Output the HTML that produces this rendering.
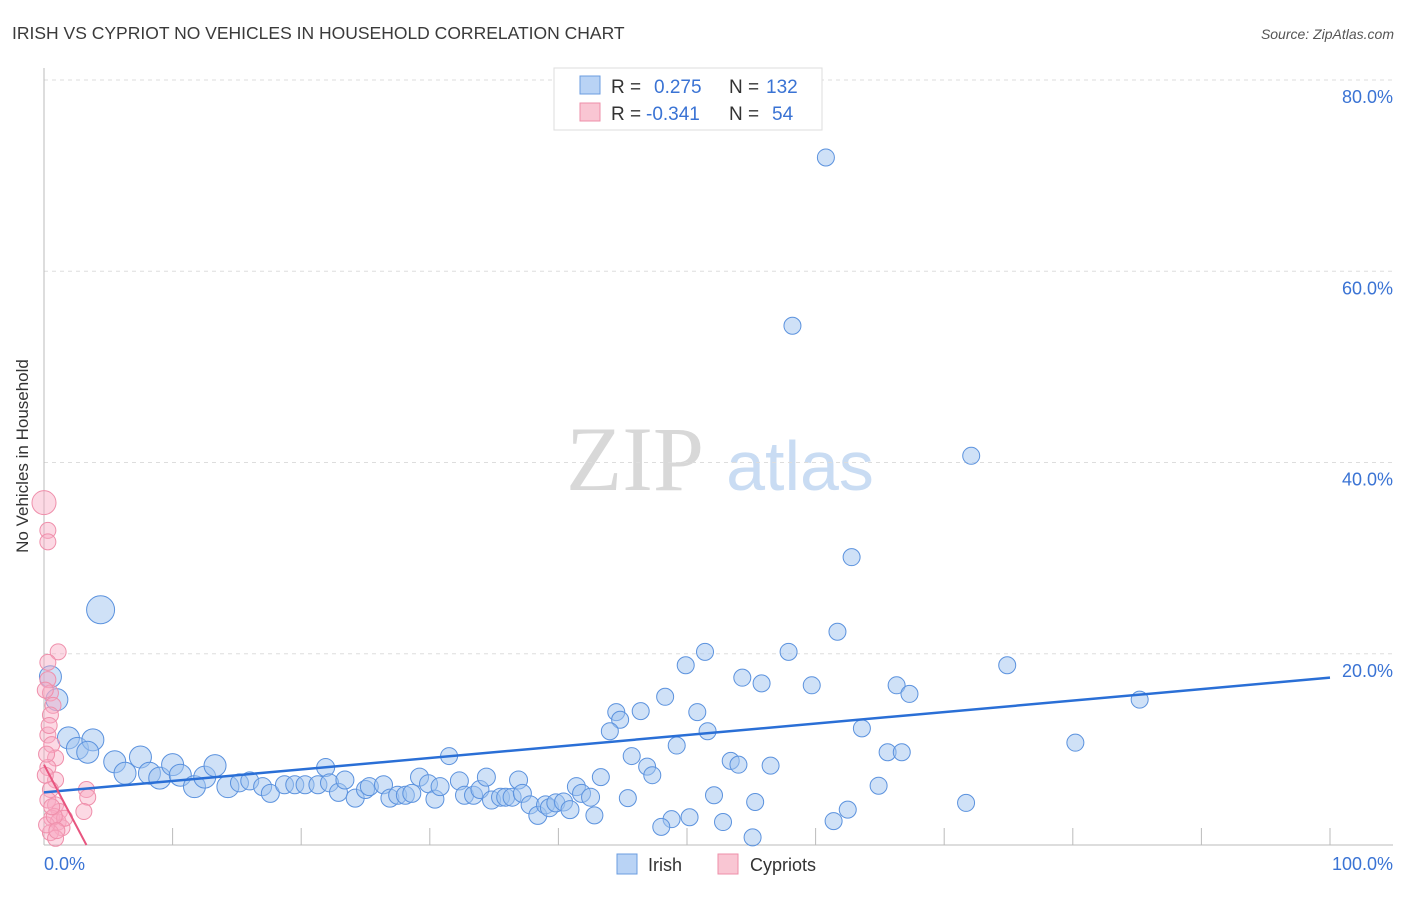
<!DOCTYPE html>
<html><head><meta charset="utf-8"><style>
body{margin:0;background:#fff;font-family:"Liberation Sans",sans-serif}
svg text{font-family:"Liberation Sans",sans-serif}
</style></head><body>
<svg id="c" width="1406" height="892">
<text x="12" y="39" font-size="17.5" fill="#3a3a3a">IRISH VS CYPRIOT NO VEHICLES IN HOUSEHOLD CORRELATION CHART</text>
<text x="1394" y="39" font-size="14" fill="#555" font-style="italic" text-anchor="end">Source: ZipAtlas.com</text>
<g>
<text x="635" y="490" font-size="92" fill="#d8d8d8" text-anchor="middle" font-family="Liberation Serif" style="font-family:'Liberation Serif',serif">ZIP</text>
<text x="800" y="490" font-size="70" fill="#c9dcf3" text-anchor="middle">atlas</text>
</g>
<g id="grid"></g><g id="axes"></g><g id="pts"></g><g id="trend"></g>
<text x="28" y="456" font-size="17" fill="#333" text-anchor="middle" transform="rotate(-90 28 456)">No Vehicles in Household</text>
<g>
<rect x="554" y="68" width="268" height="62" fill="#fff" stroke="#ddd"/>
<rect x="580" y="76" width="20" height="18" fill="#b9d3f5" stroke="#6b9de0"/>
<text x="611" y="93" font-size="19" fill="#333">R =</text><text x="654" y="93" font-size="19" fill="#3a73d4">0.275</text>
<text x="729" y="93" font-size="19" fill="#333">N =</text><text x="766" y="93" font-size="19" fill="#3a73d4">132</text>
<rect x="580" y="103" width="20" height="18" fill="#f9c6d3" stroke="#ee8fa8"/>
<text x="611" y="120" font-size="19" fill="#333">R =</text><text x="646" y="120" font-size="19" fill="#3a73d4">-0.341</text>
<text x="729" y="120" font-size="19" fill="#333">N =</text><text x="772" y="120" font-size="19" fill="#3a73d4">54</text>
</g>
<g>
<rect x="617" y="854" width="20" height="20" fill="#b9d3f5" stroke="#6b9de0"/>
<text x="648" y="871" font-size="18" fill="#333">Irish</text>
<rect x="718" y="854" width="20" height="20" fill="#f9c6d3" stroke="#ee8fa8"/>
<text x="750" y="871" font-size="18" fill="#333">Cypriots</text>
</g>
</svg>
<script>
const yTicks=[20,40,60,80];
const yTickLabels=["20.0%","40.0%","60.0%","80.0%"];
const xTickLabels=["0.0%","100.0%"];
const irishX=[0.5,1.0,1.9,2.6,3.8,3.4,5.5,6.3,7.5,8.2,9.0,10.0,10.6,11.7,12.5,13.3,14.3,15.2,16.0,17.0,17.6,18.7,19.5,20.3,21.3,21.9,22.2,22.9,23.4,24.2,25.0,25.3,26.4,26.9,27.5,28.1,28.6,29.2,29.9,30.4,30.8,32.3,32.7,33.4,33.9,34.4,34.8,35.5,35.9,36.4,36.9,37.2,37.8,38.4,39.0,39.3,39.8,40.4,40.9,41.4,41.8,42.5,4.4,
60.8,58.2,72.1,62.8,61.7,51.4,57.9,49.9,74.9,54.3,55.8,59.7,66.3,67.3,48.3,85.2,44.5,46.4,50.8,44.8,44.0,51.6,63.6,49.2,80.2,65.6,66.7,31.5,45.7,53.4,54.0,56.5,46.9,47.3,43.3,64.9,52.1,45.4,55.3,71.7,62.5,50.2,48.8,61.4,52.8,48.0,55.1,42.8];
const irishY=[17.6,15.2,11.2,10.1,11.0,9.7,8.7,7.5,9.2,7.5,7.0,8.4,7.3,6.1,7.1,8.3,6.1,6.5,6.7,6.1,5.4,6.3,6.3,6.3,6.3,8.1,6.5,5.5,6.8,4.9,5.8,6.1,6.3,4.9,5.2,5.2,5.4,7.1,6.4,4.8,6.1,6.7,5.2,5.2,5.8,7.1,4.7,5.0,5.0,5.0,6.8,5.4,4.2,3.1,4.2,3.9,4.4,4.5,3.7,6.1,5.4,5.0,24.6,
71.9,54.3,40.7,30.1,22.3,20.2,20.2,18.8,18.8,17.5,16.9,16.7,16.7,15.8,15.5,15.2,13.9,14.0,13.9,13.1,11.9,11.9,12.2,10.4,10.7,9.7,9.7,9.3,9.3,8.8,8.4,8.3,8.2,7.3,7.1,6.2,5.2,4.9,4.5,4.4,3.7,2.9,2.7,2.5,2.4,1.9,0.8,3.1];
const cypX=[0,0.3,0.3,1.1,0.3,0.3,0.5,0.7,0.5,0.3,0.6,0.9,0.3,0.9,0.5,0.3,0.9,1.2,0.6,1.1,1.4,0.5,0.9,3.3,3.4,3.1,0.1,0.2,1.6,0.1,0.4,0.8,0.2,1.0,0.6];
const cypY=[35.8,32.9,31.7,20.2,19.1,17.3,15.9,14.6,13.6,11.5,10.5,9.1,8.1,6.8,5.8,4.7,4.2,3.5,2.8,2.4,1.8,1.3,0.7,5.8,5.0,3.5,7.3,2.1,2.8,16.2,12.5,3.0,9.5,1.5,4.0];
const irishTrend=[[0,5.5],[100,17.5]];
const cypTrend=[[0,8.4],[3.3,0]];
const X0=44,X1=1330,Y0=845,Y80=80;
const sx=v=>X0+(X1-X0)*v/100, sy=v=>Y0-(Y0-Y80)*v/80;
const NS="http://www.w3.org/2000/svg";
function mk(t,p,a){const e=document.createElementNS(NS,t);for(const k in a)e.setAttribute(k,a[k]);p.appendChild(e);return e;}
const grid=document.getElementById('grid'),axes=document.getElementById('axes'),pts=document.getElementById('pts'),tr=document.getElementById('trend');
yTicks.forEach((v,i)=>{
 const l=mk('line',grid,{x1:X0,x2:1393,y1:sy(v),y2:sy(v),stroke:'#ddd','stroke-dasharray':'4,4'});
 
 
 const t=mk('text',grid,{x:1393,y:sy(v)+23,'font-size':18,fill:'#3a73d4','text-anchor':'end'});
 t.textContent=yTickLabels[i];
 
 
});
const ya=mk('line',axes,{x1:X0,x2:X0,y1:68,y2:Y0,stroke:'#bbb'});


const xa=mk('line',axes,{x1:X0,x2:1393,y1:Y0,y2:Y0,stroke:'#bbb'});


for(let i=1;i<=10;i++){const tk=mk('line',axes,{x1:sx(i*10),x2:sx(i*10),y1:Y0-17,y2:Y0,stroke:'#bbb'});
 
 }
const xl0=mk('text',axes,{x:X0,y:870,'font-size':18,fill:'#3a73d4'});xl0.textContent=xTickLabels[0];


const xl1=mk('text',axes,{x:1393,y:870,'font-size':18,fill:'#3a73d4','text-anchor':'end'});xl1.textContent=xTickLabels[1];


irishX.forEach((x,i)=>{const r=i==62?14:(i<62?(x<15?11:9):8.5);
 const c=mk('circle',pts,{cx:sx(x),cy:sy(irishY[i]),r:r,fill:'rgba(160,196,240,0.5)',stroke:'#5b92de','stroke-width':1});
 
 });
cypX.forEach((x,i)=>{const r=i==0?12:8;
 const c=mk('circle',pts,{cx:sx(x),cy:sy(cypY[i]),r:r,fill:'rgba(248,170,195,0.45)',stroke:'#ef8fab','stroke-width':1});
 
 });
const l1=mk('line',tr,{x1:sx(irishTrend[0][0]),y1:sy(irishTrend[0][1]),x2:sx(irishTrend[1][0]),y2:sy(irishTrend[1][1]),stroke:'#2a6fd6','stroke-width':2.5});


const l2=mk('line',tr,{x1:sx(cypTrend[0][0]),y1:sy(cypTrend[0][1]),x2:sx(cypTrend[1][0]),y2:sy(cypTrend[1][1]),stroke:'#e8557f','stroke-width':2});


</script>
</body></html>
